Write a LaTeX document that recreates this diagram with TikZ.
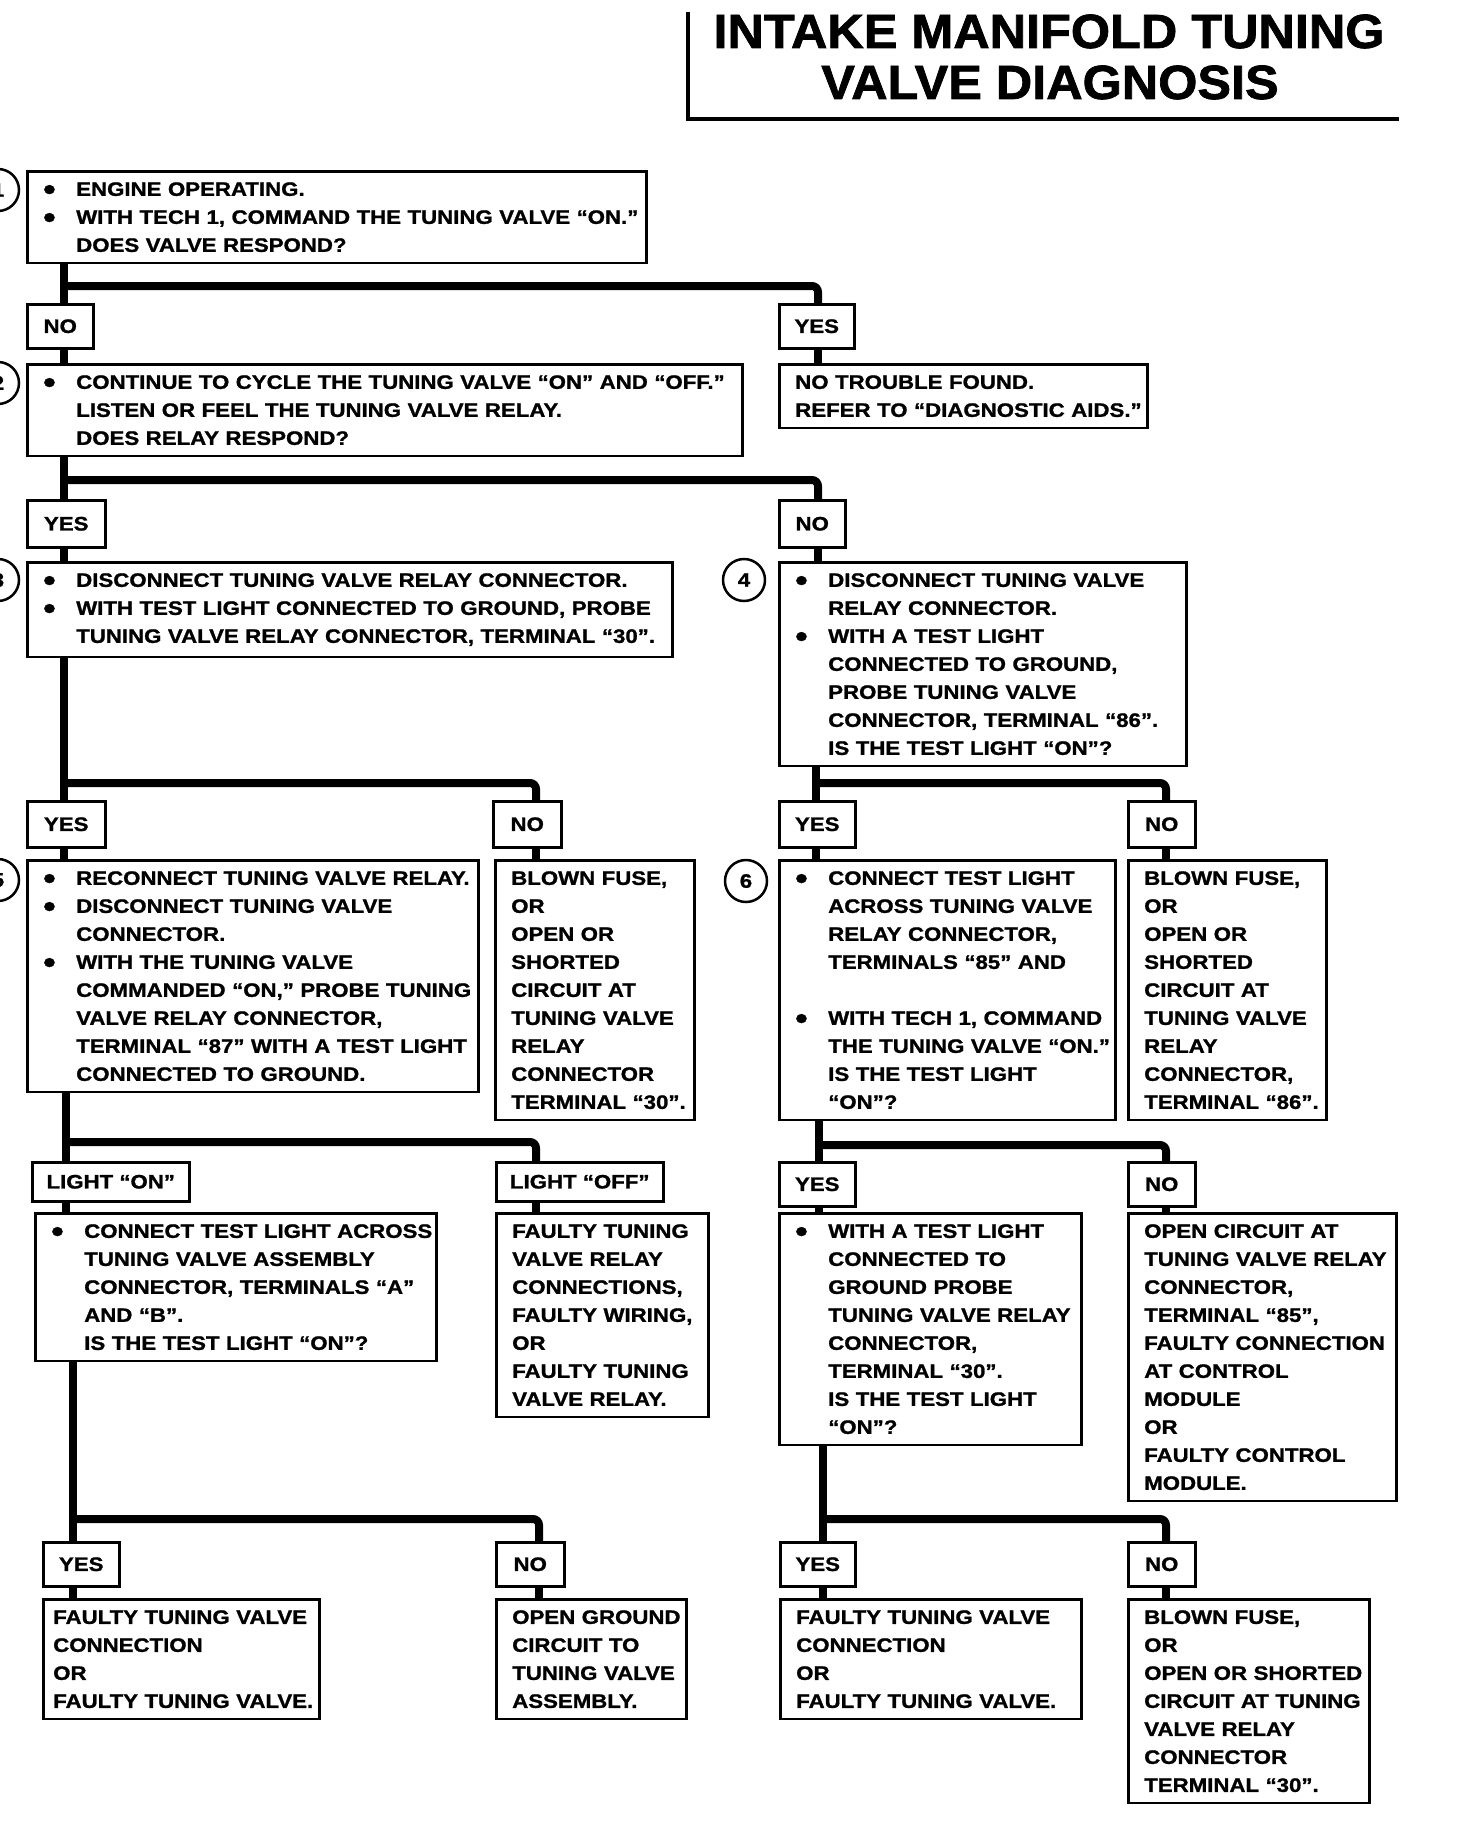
\documentclass[tikz,border=0pt]{standalone}
\usepackage{fontspec}
\usepackage{graphicx}
\setmainfont{Liberation Sans}[FakeStretch=1.14, BoldFeatures={FakeBold=1.2}]
\newfontfamily\titlefont{Liberation Sans}[FakeStretch=1.05, BoldFeatures={FakeBold=1.5}]
\newcommand\bodyf{\fontsize{19.5pt}{28pt}\selectfont\bfseries}
\newcommand\bdot{\raisebox{-4pt}{\scalebox{1.6}{\textbullet}}}
\newcommand\bulln[1]{\mbox{\hspace*{10pt}\makebox[33pt][l]{\bdot}#1}}
\newcommand\contn[1]{\mbox{\hspace*{43pt}#1}}
\newcommand\plainn[1]{\mbox{\hspace*{10pt}#1}}
\newcommand\plainm[1]{\mbox{\hspace*{4pt}#1}}
\begin{document}
\begin{tikzpicture}[x=1pt,y=-1pt,
  box/.style={draw, line width=2.5pt, anchor=north west, align=left, inner xsep=6pt, inner ysep=11pt, font=\bodyf},
  lbl/.style={draw, line width=2.5pt, anchor=north west, inner sep=0pt, font=\bodyf},
  conn/.style={line width=8pt},
  num/.style={draw, circle, line width=2.5pt, minimum size=42pt, inner sep=0pt, font=\bodyf}]
\useasboundingbox (0,0) rectangle (1456,1828);
\clip (0,0) rectangle (1456,1828);

% title
\node[font=\titlefont\fontsize{48pt}{52pt}\selectfont\bfseries, anchor=base] (ttl1) at (1049,48) {INTAKE MANIFOLD TUNING};
\node[font=\titlefont\fontsize{48pt}{52pt}\selectfont\bfseries, anchor=base] (ttl2) at (1050,99) {VALVE DIAGNOSIS};
\draw[line width=3.5pt] (688,12) -- (688,119) -- (1399,119);

% step numbers
\node[num] (c1) at (-2,190) {1};
\node[num] (c2) at (-2,383) {2};
\node[num] (c3) at (-2,580) {3};
\node[num] (c4) at (744,580) {4};
\node[num] (c5) at (-2,880) {5};
\node[num] (c6) at (746,881) {6};

% level 1
\node[box, text width=607pt] (b1) at (26,170) {\bulln{ENGINE OPERATING.}\\\bulln{WITH TECH 1, COMMAND THE TUNING VALVE “ON.”}\\\contn{DOES VALVE RESPOND?}};
\node[lbl, minimum width=66pt, minimum height=44pt] (n1) at (26,303) {NO};
\node[lbl, minimum width=75pt, minimum height=44pt] (y1) at (778,303) {YES};
\node[box, text width=703pt] (b2) at (26,363) {\bulln{CONTINUE TO CYCLE THE TUNING VALVE “ON” AND “OFF.”}\\\contn{LISTEN OR FEEL THE TUNING VALVE RELAY.}\\\contn{DOES RELAY RESPOND?}};
\node[box, text width=356pt] (ntf) at (778,363) {\plainn{NO TROUBLE FOUND.}\\\plainn{REFER TO “DIAGNOSTIC AIDS.”}};

% level 2
\node[lbl, minimum width=78pt, minimum height=47pt] (y2) at (26,499) {YES};
\node[lbl, minimum width=66pt, minimum height=47pt] (n2) at (778,499) {NO};
\node[box, text width=633pt] (b3) at (26,561) {\bulln{DISCONNECT TUNING VALVE RELAY CONNECTOR.}\\\bulln{WITH TEST LIGHT CONNECTED TO GROUND, PROBE}\\\contn{TUNING VALVE RELAY CONNECTOR, TERMINAL “30”.}};
\node[box, text width=395pt] (b4) at (778,561) {\bulln{DISCONNECT TUNING VALVE}\\\contn{RELAY CONNECTOR.}\\\bulln{WITH A TEST LIGHT}\\\contn{CONNECTED TO GROUND,}\\\contn{PROBE TUNING VALVE}\\\contn{CONNECTOR, TERMINAL “86”.}\\\contn{IS THE TEST LIGHT “ON”?}};

% level 3
\node[lbl, minimum width=78pt, minimum height=46pt] (y3) at (26,800) {YES};
\node[lbl, minimum width=68pt, minimum height=46pt] (n3) at (492,800) {NO};
\node[lbl, minimum width=76pt, minimum height=46pt] (y4) at (778,800) {YES};
\node[lbl, minimum width=67pt, minimum height=46pt] (n4) at (1127,800) {NO};
\node[box, text width=439pt] (b5) at (26,859) {\bulln{RECONNECT TUNING VALVE RELAY.}\\\bulln{DISCONNECT TUNING VALVE}\\\contn{CONNECTOR.}\\\bulln{WITH THE TUNING VALVE}\\\contn{COMMANDED “ON,” PROBE TUNING}\\\contn{VALVE RELAY CONNECTOR,}\\\contn{TERMINAL “87” WITH A TEST LIGHT}\\\contn{CONNECTED TO GROUND.}};
\node[box, text width=187pt] (b5n) at (494,859) {\plainn{BLOWN FUSE,}\\\plainn{OR}\\\plainn{OPEN OR}\\\plainn{SHORTED}\\\plainn{CIRCUIT AT}\\\plainn{TUNING VALVE}\\\plainn{RELAY}\\\plainn{CONNECTOR}\\\plainn{TERMINAL “30”.}};
\node[box, text width=324pt] (b6) at (778,859) {\bulln{CONNECT TEST LIGHT}\\\contn{ACROSS TUNING VALVE}\\\contn{RELAY CONNECTOR,}\\\contn{TERMINALS “85” AND}\\\plainn{}\\\bulln{WITH TECH 1, COMMAND}\\\contn{THE TUNING VALVE “ON.”}\\\contn{IS THE TEST LIGHT}\\\contn{“ON”?}};
\node[box, text width=186pt] (b6n) at (1127,859) {\plainn{BLOWN FUSE,}\\\plainn{OR}\\\plainn{OPEN OR}\\\plainn{SHORTED}\\\plainn{CIRCUIT AT}\\\plainn{TUNING VALVE}\\\plainn{RELAY}\\\plainn{CONNECTOR,}\\\plainn{TERMINAL “86”.}};

% level 4
\node[lbl, minimum width=157pt, minimum height=39pt] (lon) at (31,1161) {LIGHT “ON”};
\node[lbl, minimum width=167pt, minimum height=39pt] (loff) at (495,1161) {LIGHT “OFF”};
\node[lbl, minimum width=76pt, minimum height=44pt] (y6) at (778,1161) {YES};
\node[lbl, minimum width=67pt, minimum height=44pt] (n6) at (1127,1161) {NO};
\node[box, text width=389pt] (blon) at (34,1212) {\bulln{CONNECT TEST LIGHT ACROSS}\\\contn{TUNING VALVE ASSEMBLY}\\\contn{CONNECTOR, TERMINALS “A”}\\\contn{AND “B”.}\\\contn{IS THE TEST LIGHT “ON”?}};
\node[box, text width=200pt] (bloff) at (495,1212) {\plainn{FAULTY TUNING}\\\plainn{VALVE RELAY}\\\plainn{CONNECTIONS,}\\\plainn{FAULTY WIRING,}\\\plainn{OR}\\\plainn{FAULTY TUNING}\\\plainn{VALVE RELAY.}};
\node[box, text width=290pt] (b6y) at (778,1212) {\bulln{WITH A TEST LIGHT}\\\contn{CONNECTED TO}\\\contn{GROUND PROBE}\\\contn{TUNING VALVE RELAY}\\\contn{CONNECTOR,}\\\contn{TERMINAL “30”.}\\\contn{IS THE TEST LIGHT}\\\contn{“ON”?}};
\node[box, text width=256pt] (b6nn) at (1127,1212) {\plainn{OPEN CIRCUIT AT}\\\plainn{TUNING VALVE RELAY}\\\plainn{CONNECTOR,}\\\plainn{TERMINAL “85”,}\\\plainn{FAULTY CONNECTION}\\\plainn{AT CONTROL}\\\plainn{MODULE}\\\plainn{OR}\\\plainn{FAULTY CONTROL}\\\plainn{MODULE.}};

% level 5
\node[lbl, minimum width=76pt, minimum height=44pt] (y7) at (42,1541) {YES};
\node[lbl, minimum width=68pt, minimum height=44pt] (n7) at (495,1541) {NO};
\node[lbl, minimum width=75pt, minimum height=44pt] (y8) at (779,1541) {YES};
\node[lbl, minimum width=67pt, minimum height=44pt] (n8) at (1127,1541) {NO};
\node[box, text width=264pt] (b7y) at (42,1598) {\plainm{FAULTY TUNING VALVE}\\\plainm{CONNECTION}\\\plainm{OR}\\\plainm{FAULTY TUNING VALVE.}};
\node[box, text width=178pt] (b7n) at (495,1598) {\plainn{OPEN GROUND}\\\plainn{CIRCUIT TO}\\\plainn{TUNING VALVE}\\\plainn{ASSEMBLY.}};
\node[box, text width=289pt] (b8y) at (779,1598) {\plainn{FAULTY TUNING VALVE}\\\plainn{CONNECTION}\\\plainn{OR}\\\plainn{FAULTY TUNING VALVE.}};
\node[box, text width=229pt] (b8n) at (1127,1598) {\plainn{BLOWN FUSE,}\\\plainn{OR}\\\plainn{OPEN OR SHORTED}\\\plainn{CIRCUIT AT TUNING}\\\plainn{VALVE RELAY}\\\plainn{CONNECTOR}\\\plainn{TERMINAL “30”.}};

% junction coordinates
\coordinate (ja) at (64,286);  \coordinate (da) at (818,286);
\coordinate (jb) at (64,480);  \coordinate (db) at (818,480);
\coordinate (jc) at (64,783);  \coordinate (dc) at (536,783);
\coordinate (jd) at (816,783); \coordinate (dd) at (1166,783);
\coordinate (je) at (66,1142); \coordinate (de) at (536,1142);
\coordinate (jf) at (819,1145);\coordinate (df) at (1166,1145);
\coordinate (jg) at (73,1519); \coordinate (dg) at (539,1519);
\coordinate (jh) at (823,1519);\coordinate (dh) at (1166,1519);

% connectors level 1
\draw[conn] (b1.south -| ja) -- (n1.north -| ja);
\draw[conn, rounded corners=6pt] (ja) -- (da) -- (y1.north -| da);
\draw[conn] (n1.south -| ja) -- (b2.north -| ja);
\draw[conn] (y1.south -| da) -- (ntf.north -| da);
% level 2
\draw[conn] (b2.south -| jb) -- (y2.north -| jb);
\draw[conn, rounded corners=6pt] (jb) -- (db) -- (n2.north -| db);
\draw[conn] (y2.south -| jb) -- (b3.north -| jb);
\draw[conn] (n2.south -| db) -- (b4.north -| db);
% level 3
\draw[conn] (b3.south -| jc) -- (y3.north -| jc);
\draw[conn, rounded corners=6pt] (jc) -- (dc) -- (n3.north -| dc);
\draw[conn] (y3.south -| jc) -- (b5.north -| jc);
\draw[conn] (n3.south -| dc) -- (b5n.north -| dc);
\draw[conn] (b4.south -| jd) -- (y4.north -| jd);
\draw[conn, rounded corners=6pt] (jd) -- (dd) -- (n4.north -| dd);
\draw[conn] (y4.south -| jd) -- (b6.north -| jd);
\draw[conn] (n4.south -| dd) -- (b6n.north -| dd);
% level 4
\draw[conn] (b5.south -| je) -- (lon.north -| je);
\draw[conn, rounded corners=6pt] (je) -- (de) -- (loff.north -| de);
\draw[conn] (lon.south -| je) -- (blon.north -| je);
\draw[conn] (loff.south -| de) -- (bloff.north -| de);
\draw[conn] (b6.south -| jf) -- (y6.north -| jf);
\draw[conn, rounded corners=6pt] (jf) -- (df) -- (n6.north -| df);
\draw[conn] (y6.south -| jf) -- (b6y.north -| jf);
\draw[conn] (n6.south -| df) -- (b6nn.north -| df);
% level 5
\draw[conn] (blon.south -| jg) -- (y7.north -| jg);
\draw[conn, rounded corners=6pt] (jg) -- (dg) -- (n7.north -| dg);
\draw[conn] (y7.south -| jg) -- (b7y.north -| jg);
\draw[conn] (n7.south -| dg) -- (b7n.north -| dg);
\draw[conn] (b6y.south -| jh) -- (y8.north -| jh);
\draw[conn, rounded corners=6pt] (jh) -- (dh) -- (n8.north -| dh);
\draw[conn] (y8.south -| jh) -- (b8y.north -| jh);
\draw[conn] (n8.south -| dh) -- (b8n.north -| dh);
\end{tikzpicture}
\end{document}
